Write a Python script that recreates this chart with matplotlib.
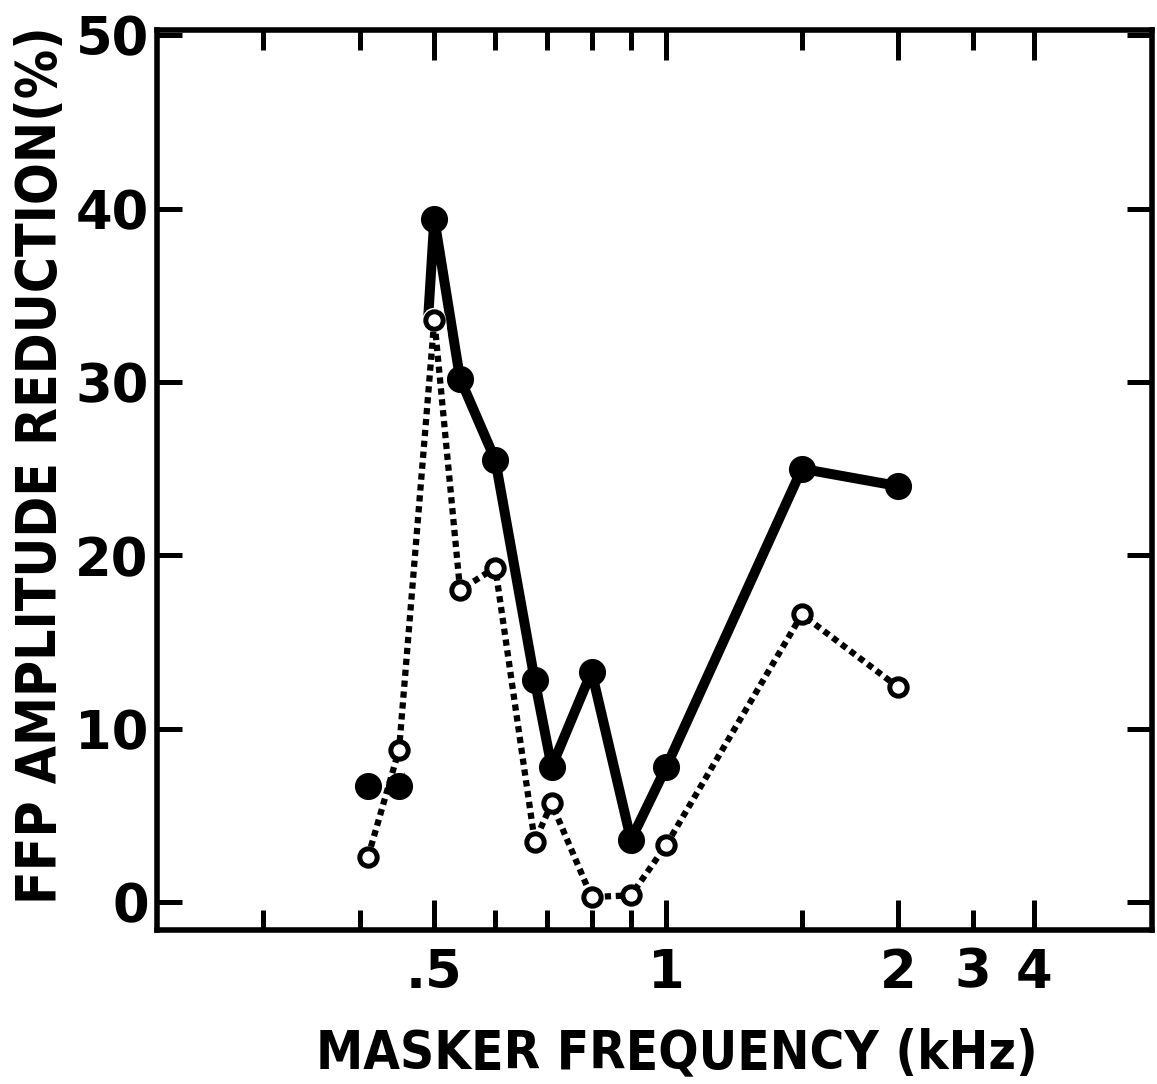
import matplotlib
matplotlib.use('Agg')
import matplotlib.pyplot as plt

# masker frequency (kHz)
freq = [0.41, 0.45, 0.5, 0.54, 0.6, 0.675, 0.71, 0.8, 0.9, 1.0, 1.5, 2.0]
# filled circles (solid line)
solid_vals = [6.7, 6.7, 39.4, 30.2, 25.5, 12.8, 7.8, 13.3, 3.6, 7.8, 25.0, 24.0]
# open circles (dotted line)
open_vals = [2.6, 8.8, 33.6, 18.0, 19.3, 3.5, 5.7, 0.3, 0.4, 3.3, 16.6, 12.4]

# axis ticks as printed on the figure
x_major = [0.5, 1, 2, 3]
x_major_labels = ['.5', '1', '2', '4']
x_minor = [0.3, 0.4, 0.6, 0.7, 0.8, 0.9, 1.5, 2.5]
x_minor_labels = ['', '', '', '', '', '', '', '3']
y_ticks = [0, 10, 20, 30, 40, 50]

fig = plt.figure(figsize=(11.57, 10.84), dpi=100)
ax = fig.add_axes([157/1157, 1 - 930/1084, 995/1157, 900/1084])

# solid line starts at the second point, first filled point stands alone
ax.plot(freq[1:], solid_vals[1:], color='black', lw=7.2, solid_joinstyle='round',
        solid_capstyle='round', zorder=2)
# white band under the dotted line, like the original drawing where it crosses the solid one
ax.plot(freq, open_vals, color='white', lw=17, zorder=2.5)
ax.plot(freq, solid_vals, ls='none', marker='o', ms=18.5, color='black', zorder=3)
ax.plot(freq, open_vals, color='black', lw=4.5, ls=(0, (1.0, 0.75)), zorder=4,
        marker='o', ms=12.5, mfc='white', mec='black', mew=3.6)

ax.set_xscale('log')
ax.set_xlim(0.2183, 4.27)
ax.set_ylim(-1.6, 50.3)

ax.set_xticks(x_major, labels=x_major_labels)
ax.set_xticks(x_minor, labels=x_minor_labels, minor=True)
ax.set_yticks(y_ticks)
ax.yaxis.set_minor_locator(matplotlib.ticker.NullLocator())

ax.tick_params(axis='x', which='both', direction='in', top=True, bottom=True,
               width=3.6, labelsize=38, pad=12)
ax.tick_params(axis='x', which='major', length=21.6)
ax.tick_params(axis='x', which='minor', length=14.4)
ax.tick_params(axis='y', which='major', direction='in', left=True, right=True,
               length=18, width=3.6, labelsize=38, pad=6)
for lab in ax.get_xticklabels(which='both') + ax.get_yticklabels():
    lab.set_fontweight('bold')

for sp in ax.spines.values():
    sp.set_linewidth(4)

ax.set_ylabel('FFP AMPLITUDE REDUCTION(%)', family='DejaVu Sans', stretch='condensed',
              fontsize=39.5, fontweight='bold', va='center')
ax.yaxis.set_label_coords(-0.117, 0.517)
ax.set_xlabel('MASKER FREQUENCY (kHz)', family='DejaVu Sans', stretch='condensed',
              fontsize=38, fontweight='bold', va='center')
ax.xaxis.set_label_coords(0.522, -0.137)

fig.savefig('out.png', dpi=100)
